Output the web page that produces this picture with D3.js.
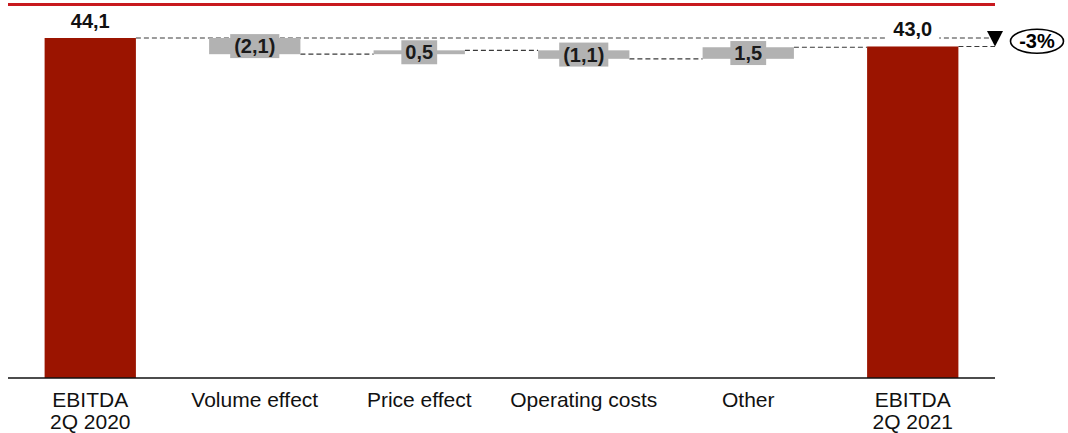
<!DOCTYPE html>
<html><head><meta charset="utf-8">
<script src="https://cdn.jsdelivr.net/npm/d3@7"></script>
<style>
html,body{margin:0;padding:0;background:#fff;}
svg{display:block;font-family:"Liberation Sans",Arial,sans-serif;}
</style></head>
<body>
<svg id="chart" width="1068" height="433"></svg>
<script>
const categories = ["EBITDA\n2Q 2020","Volume effect","Price effect","Operating costs","Other","EBITDA\n2Q 2021"];
const values = [44.1, -2.1, 0.5, -1.1, 1.5, 43.0];
const kinds = ["total","delta","delta","delta","delta","total"];
const changeLabel = "-3%";

const svg = d3.select("#chart");
const left = 8, right = 995, baseY = 378, topY = 38;

// waterfall segments
let running = 0;
const segs = values.map((v,i)=>{
  if(kinds[i]==="total"){ running = v; return {i, v, start:0, end:v, kind:"total"}; }
  const s = running; running = running + v; return {i, v, start:s, end:running, kind:"delta"};
});

const x = d3.scaleBand().domain(d3.range(categories.length)).range([left, right])
  .paddingInner(0.445).paddingOuter(0.2225);
const y = d3.scaleLinear().domain([0, values[0]]).range([baseY, topY]);
const bw = x.bandwidth();

const fmt = v => { const s = d3.format(".1f")(Math.abs(v)).replace(".", ","); return v<0 ? "("+s+")" : s; };

// top red rule
svg.append("line").attr("x1",left).attr("x2",right).attr("y1",4.5).attr("y2",4.5)
  .attr("stroke","#C8191E").attr("stroke-width",3);

// dashed connectors
const dash = (x1,x2,yy)=> svg.append("line").attr("x1",x1).attr("x2",x2).attr("y1",yy).attr("y2",yy)
  .attr("stroke","#3a3a3a").attr("stroke-width",1.2).attr("stroke-dasharray","5,3");
const markerX = right;
dash(x(0)+bw, markerX, y(segs[0].end));
for(let i=1;i<segs.length-1;i++){ dash(x(i)+bw, x(i+1), y(segs[i].end)); }
dash(x(segs.length-1)+bw, markerX, y(segs[segs.length-1].end));

// bars
svg.selectAll("rect.bar").data(segs).join("rect").attr("class","bar")
  .attr("x",d=>x(d.i)).attr("width",bw)
  .attr("y",d=>y(Math.max(d.start,d.end)))
  .attr("height",d=>Math.max(1, Math.abs(y(d.start)-y(d.end))))
  .attr("fill",d=>d.kind==="total" ? "#9B1400" : "#B2B2B2");

// axis baseline
svg.append("line").attr("x1",left).attr("x2",right).attr("y1",baseY).attr("y2",baseY)
  .attr("stroke","#111").attr("stroke-width",1.6);

// value labels
segs.forEach(d=>{
  const cx = x(d.i)+bw/2;
  if(d.kind==="total"){
    const ty = y(d.end) - 10;
    const g = svg.append("g");
    const t = g.append("text").attr("x",cx).attr("y",ty).attr("text-anchor","middle")
      .attr("font-size",20).attr("font-weight","bold").attr("fill","#111").text(fmt(d.v));
    if(d.i>0){
      const b = t.node().getBBox();
      g.insert("rect","text").attr("x",b.x-7).attr("y",b.y).attr("width",b.width+14).attr("height",b.height+2).attr("fill","#fff");
    }
  } else {
    const cy = (y(d.start)+y(d.end))/2;
    const g = svg.append("g");
    const t = g.append("text").attr("x",cx).attr("y",cy).attr("dy","0.36em").attr("text-anchor","middle")
      .attr("font-size",20).attr("font-weight","bold").attr("fill","#1a1a1a").text(fmt(d.v));
    const b = t.node().getBBox();
    g.insert("rect","text").attr("x",b.x-4).attr("y",cy-12).attr("width",b.width+8).attr("height",24).attr("fill","#B2B2B2");
  }
});

// change marker
const yA = y(segs[0].end), yB = y(segs[segs.length-1].end);
svg.append("path").attr("d", d3.line()([[markerX-8, yA-7],[markerX+8, yA-7],[markerX, yB]])+"Z").attr("fill","#000");
const ecx = markerX+42, ecy = (yA+yB)/2 - 1;
svg.append("ellipse").attr("cx",ecx).attr("cy",ecy).attr("rx",26.5).attr("ry",12)
  .attr("fill","#fff").attr("stroke","#000").attr("stroke-width",1.6);
svg.append("text").attr("x",ecx).attr("y",ecy).attr("dy","0.36em").attr("text-anchor","middle")
  .attr("font-size",20).attr("font-weight","bold").attr("fill","#000").text(changeLabel);

// category labels
categories.forEach((c,i)=>{
  const t = svg.append("text").attr("text-anchor","middle").attr("font-size",21).attr("fill","#111");
  c.split("\n").forEach((ln,k)=>{
    t.append("tspan").attr("x",x(i)+bw/2).attr("y",407+k*21.5).text(ln);
  });
});
</script>
</body></html>
